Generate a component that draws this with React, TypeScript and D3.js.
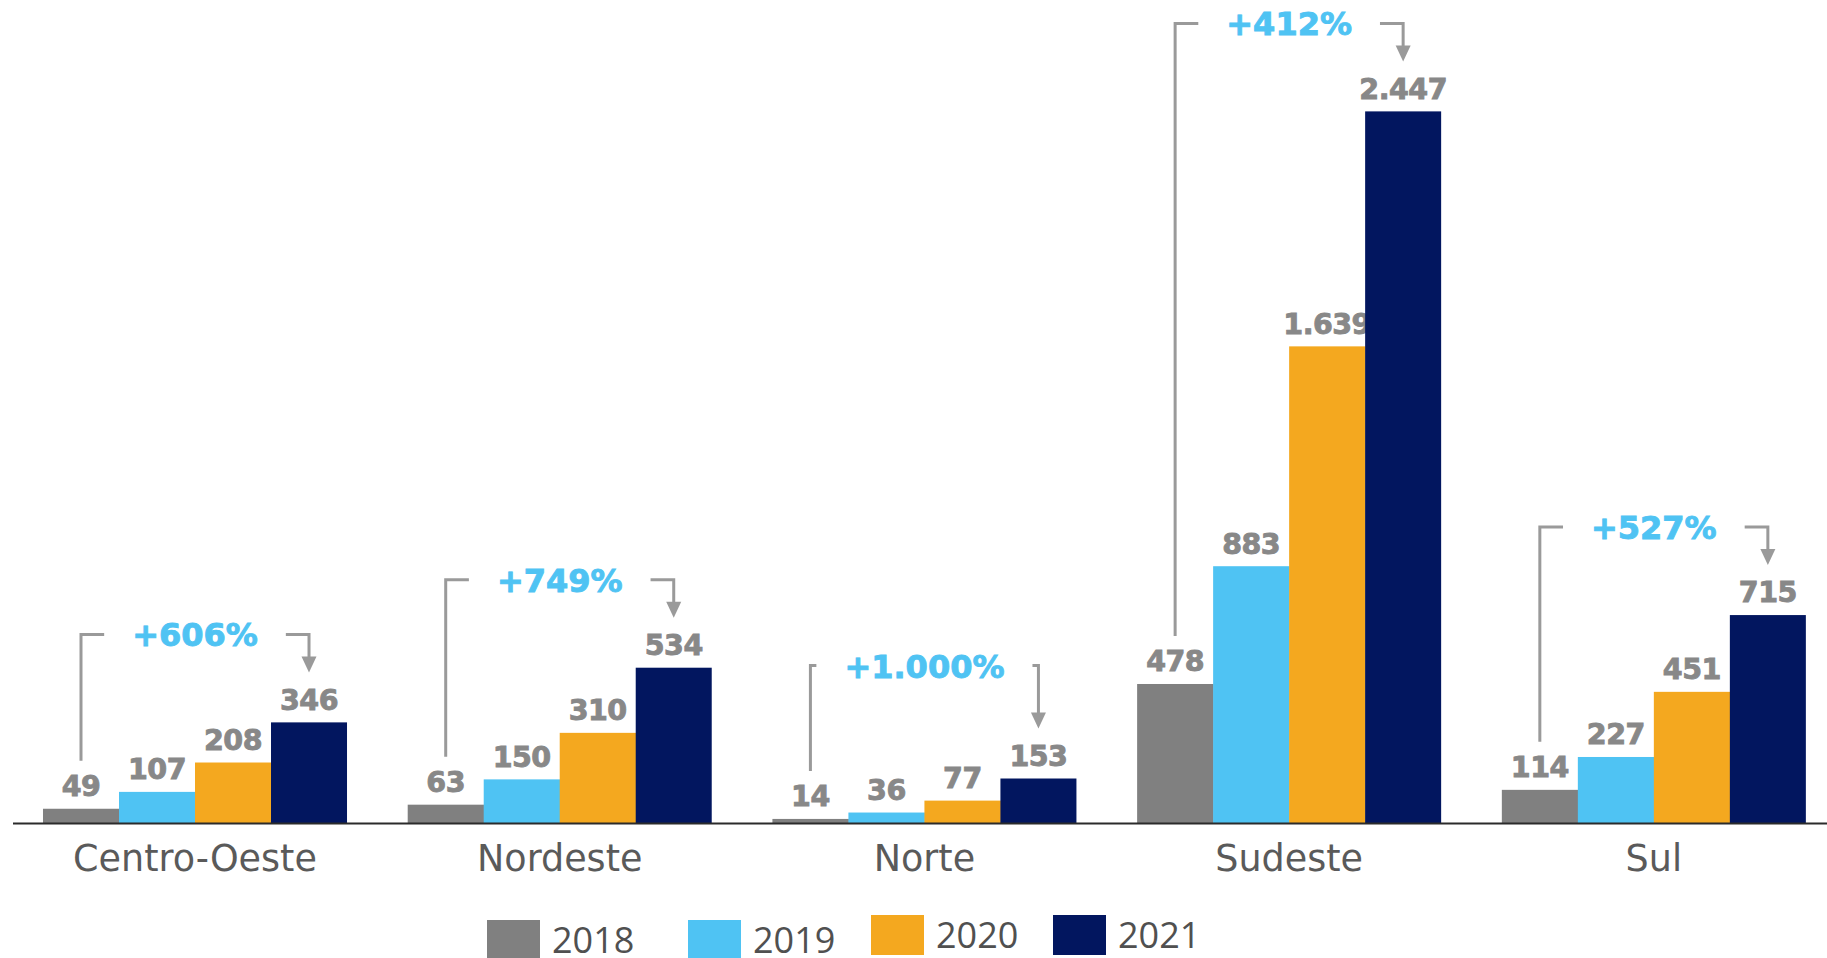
import React, { useEffect, useRef } from "react";
import * as d3 from "d3";

const regions = ["Centro-Oeste", "Nordeste", "Norte", "Sudeste", "Sul"];
const years = ["2018", "2019", "2020", "2021"];
const values2018 = [49, 63, 14, 478, 114];
const values2019 = [107, 150, 36, 883, 227];
const values2020 = [208, 310, 77, 1639, 451];
const values2021 = [346, 534, 153, 2447, 715];
const growthLabels = ["+606%", "+749%", "+1.000%", "+412%", "+527%"];
const yearColors = ["#808080", "#4FC3F3", "#F4A81F", "#02165F"];

const W = 1827;
const H = 958;
const BASE = 823;

const ptBR = d3.formatLocale({ decimal: ",", thousands: ".", grouping: [3], currency: ["R$", ""] });
const fmt = ptBR.format(",d");

export default function App() {
  const ref = useRef<SVGSVGElement | null>(null);

  useEffect(() => {
    const svg = d3.select(ref.current);
    svg.selectAll("*").remove();

    const series = [values2018, values2019, values2020, values2021];
    const x0 = d3.scaleBand<string>().domain(regions).range([12.65, 1836.2]).paddingInner(0.1664).paddingOuter(0.0832);
    const x1 = d3.scaleBand<string>().domain(years).range([0, x0.bandwidth()]);
    const y = d3.scaleLinear().domain([0, 2830]).range([BASE, 0]);

    const rows = regions.map((r, i) => ({ region: r, vals: series.map((s) => s[i]), label: growthLabels[i], lift: r === "Norte" ? 25 : 0 }));

    // bars
    const g = svg.append("g");
    rows.forEach((row) => {
      const gx = x0(row.region)!;
      years.forEach((yr, j) => {
        const v = row.vals[j];
        g.append("rect")
          .attr("x", gx + x1(yr)!)
          .attr("y", y(v))
          .attr("width", x1.bandwidth() + (j < 3 ? 0.5 : 0))
          .attr("height", BASE - y(v))
          .attr("fill", yearColors[j]);
        g.append("text")
          .attr("x", gx + x1(yr)! + x1.bandwidth() / 2)
          .attr("y", y(v) - 12.7)
          .attr("text-anchor", "middle")
          .attr("font-family", "'DejaVu Sans', sans-serif")
          .attr("font-weight", 700)
          .attr("font-size", 28.5)
          .attr("letter-spacing", -0.5)
          .attr("fill", "#888888")
          .attr("stroke", "#888888")
          .attr("stroke-width", 0.9)
          .text(fmt(v));
      });
    });

    // axis line
    svg.append("line").attr("x1", 13).attr("x2", W).attr("y1", BASE + 0.5).attr("y2", BASE + 0.5)
      .attr("stroke", "#2b2b2b").attr("stroke-width", 2);

    // category labels
    rows.forEach((row) => {
      svg.append("text")
        .attr("x", x0(row.region)! + x0.bandwidth() / 2)
        .attr("y", 871)
        .attr("text-anchor", "middle")
        .attr("font-family", "'DejaVu Sans', sans-serif")
        .attr("font-size", 36.5)
        .attr("fill", "#5a5a5a")
        .text(row.region);
    });

    // growth annotations
    const ann = svg.append("g");
    rows.forEach((row) => {
      const gx = x0(row.region)!;
      const cx = gx + x0.bandwidth() / 2;
      const c0 = gx + x1("2018")! + x1.bandwidth() / 2;
      const c3 = gx + x1("2021")! + x1.bandwidth() / 2;
      const top3 = y(row.vals[3]);
      const by = top3 - 88 - row.lift;
      const t = ann.append("text")
        .attr("x", cx)
        .attr("y", by + 12)
        .attr("text-anchor", "middle")
        .attr("font-family", "'DejaVu Sans', sans-serif")
        .attr("font-weight", 700)
        .attr("font-size", 32)
        .attr("fill", "#4FC3F3")
        .attr("stroke", "#4FC3F3")
        .attr("stroke-width", 0.9)
        .text(row.label);
      const tw = (t.node() as SVGTextElement).getComputedTextLength();
      const leftEnd = Math.max(cx - tw / 2 - 28, c0 + 3);
      const rightStart = Math.min(cx + tw / 2 + 28, c3 - 3);
      const tip = top3 - 50;
      const headH = 16;
      ann.append("path")
        .attr("d", `M${c0},${y(row.vals[0]) - 48}V${by}H${leftEnd}`)
        .attr("fill", "none").attr("stroke", "#9a9a9a").attr("stroke-width", 3);
      ann.append("path")
        .attr("d", `M${rightStart},${by}H${c3}V${tip - headH + 1}`)
        .attr("fill", "none").attr("stroke", "#9a9a9a").attr("stroke-width", 3);
      ann.append("path")
        .attr("d", `M${c3 - 7.5},${tip - headH}L${c3 + 7.5},${tip - headH}L${c3},${tip}Z`)
        .attr("fill", "#9a9a9a");
    });

    // legend
    const legX = [487, 688, 871, 1053];
    const legY = [920, 920, 915, 915];
    const leg = svg.append("g");
    years.forEach((yr, j) => {
      leg.append("rect").attr("x", legX[j]).attr("y", legY[j]).attr("width", 53).attr("height", 40).attr("fill", yearColors[j]);
      leg.append("text")
        .attr("x", legX[j] + 65)
        .attr("y", legY[j] + 33)
        .attr("font-family", "'Open Sans', sans-serif")
        .attr("font-size", 36)
        .attr("fill", "#505050")
        .text(yr);
    });
  }, []);

  return (
    <svg
      ref={ref}
      width={W}
      height={H}
      viewBox={`0 0 ${W} ${H}`}
      style={{ position: "fixed", left: 0, top: 0, display: "block", background: "#fff" }}
    />
  );
}
